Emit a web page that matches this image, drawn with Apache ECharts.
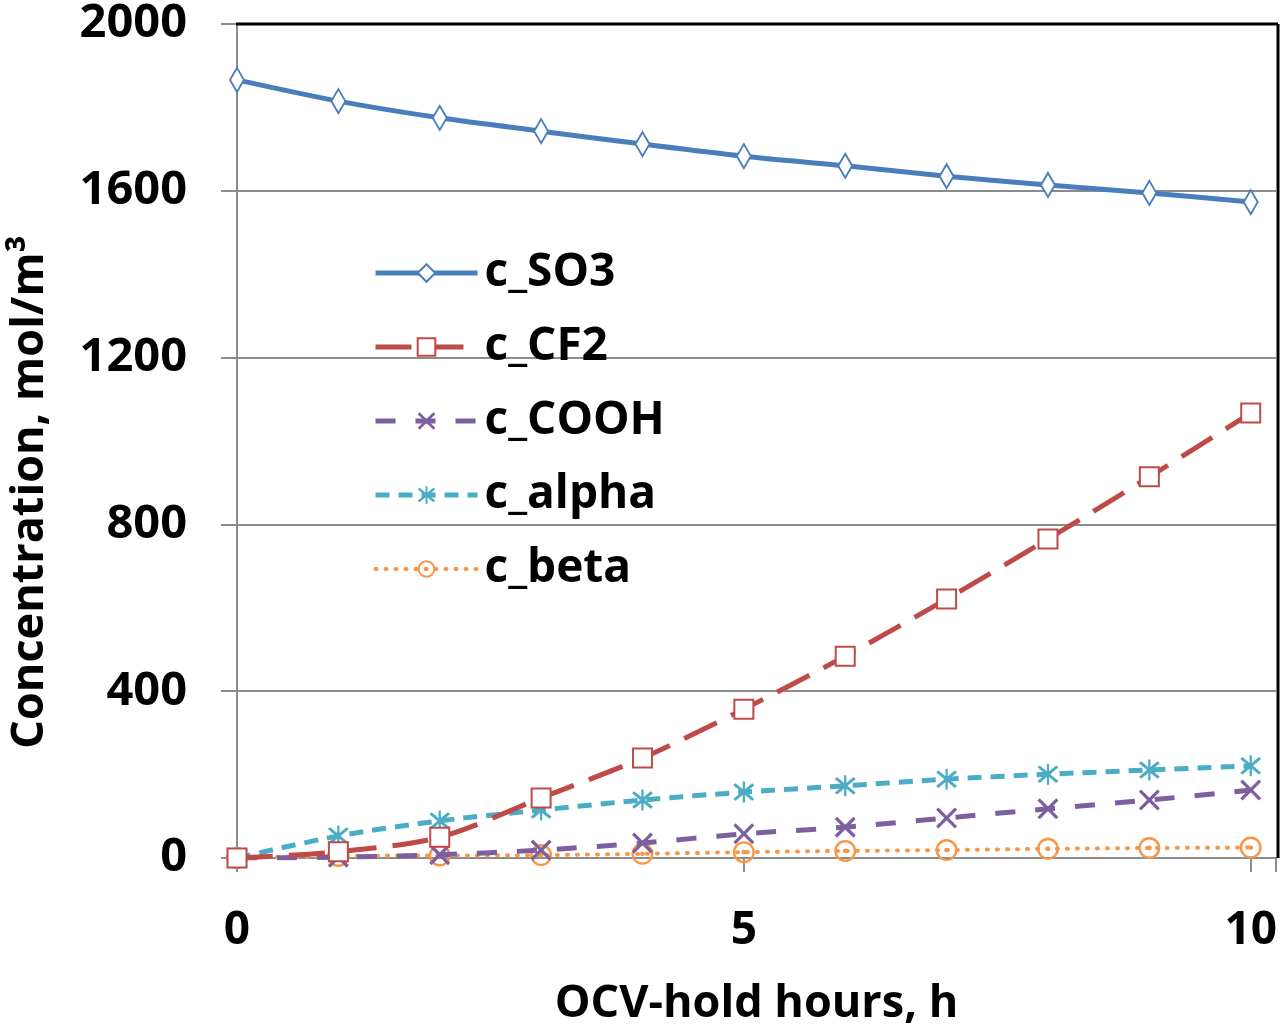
<!DOCTYPE html>
<html><head><meta charset="utf-8">
<script src="https://cdn.jsdelivr.net/npm/echarts@6/dist/echarts.min.js"></script>
<style>html,body{margin:0;padding:0;background:#fff}#c{width:1280px;height:1033px}</style>
</head><body><div id="c"></div>
<script>
const hours = [0,1,2,3,4,5,6,7,8,9,10];
const cSO3  = [1866,1815,1775,1743,1712,1683,1660,1635,1614,1595,1573];
const cCF2  = [0,15,50,144,240,357,484,621,765,914,1067];
const cCOOH = [0,2,8,19,36,58,74,96,118,139,163];
const cAlpha= [0,53,89,115,139,158,173,189,201,211,221];
const cBeta = [0,5,6,7,10,14,17,19,22,24,25];
const seriesNames = ['c_SO3','c_CF2','c_COOH','c_alpha','c_beta'];
const yTicks = [0,400,800,1200,1600,2000];
const xTicks = [0,5,10];

const pairs = arr => hours.map((h,i)=>[h,arr[i]]);
const FONT = '"Open Sans", sans-serif';
const xSym = 'path://M0,1.1L1.1,0L5,3.9L8.9,0L10,1.1L6.1,5L10,8.9L8.9,10L5,6.1L1.1,10L0,8.9L3.9,5Z';
const astSym = 'path://M0,1.1L1.1,0L5,3.9L8.9,0L10,1.1L6.1,5L10,8.9L8.9,10L5,6.1L1.1,10L0,8.9L3.9,5Z M4.45,-1L5.55,-1L5.55,11L4.45,11Z';
const ringSym = 'path://M5,0A5,5 0 1,1 5,10A5,5 0 1,1 5,0Z M5,1.1A3.9,3.9 0 1,0 5,8.9A3.9,3.9 0 1,0 5,1.1Z M5,3.9A1.1,1.1 0 1,1 5,6.1A1.1,1.1 0 1,1 5,3.9Z';

const chart = echarts.init(document.getElementById('c'));
chart.setOption({
  animation:false,
  grid:{left:236,right:2,top:24,bottom:175,show:false},
  legend:{
    left:368, top:245, orient:'vertical',
    itemWidth:102, itemHeight:22, itemGap:28,
    lineStyle:{width:'inherit'},
    textStyle:{fontFamily:FONT,fontWeight:'bold',fontSize:46,color:'#000',padding:[0,0,0,2]},
    data:seriesNames
  },
  xAxis:{
    type:'value', min:0, max:10.25, interval:5,
    axisLine:{show:true,lineStyle:{color:'#8c8c8c',width:2}},
    axisTick:{show:true,length:14,lineStyle:{color:'#8c8c8c',width:2}},
    splitLine:{show:false},
    axisLabel:{fontFamily:FONT,fontWeight:'bold',fontSize:46,color:'#000',margin:50,
      formatter:v=> xTicks.indexOf(v)>=0 ? String(v) : ''},
    name:'OCV-hold hours, h', nameLocation:'middle', nameGap:124,
    nameTextStyle:{fontFamily:FONT,fontWeight:'bold',fontSize:45,color:'#000'}
  },
  yAxis:{
    type:'value', min:0, max:2000, interval:400,
    axisLine:{show:true,lineStyle:{color:'#8c8c8c',width:2}},
    axisTick:{show:true,length:16,inside:false,lineStyle:{color:'#8c8c8c',width:2}},
    splitLine:{show:true,lineStyle:{color:'#8c8c8c',width:2}},
    axisLabel:{fontFamily:FONT,fontWeight:'bold',fontSize:47,color:'#000',margin:50,
      formatter:v=> yTicks.indexOf(v)>=0 ? String(v) : ''},
    name:'Concentration, mol/m³', nameLocation:'middle', nameGap:184,
    nameTextStyle:{fontFamily:FONT,fontWeight:'bold',fontSize:45,color:'#000',padding:[0,102,0,0]}
  },
  graphic:[
    {type:'line',shape:{x1:236,y1:24,x2:1278,y2:24},style:{stroke:'#000',lineWidth:3},z:10},
    {type:'line',shape:{x1:1278,y1:24,x2:1278,y2:858},style:{stroke:'#000',lineWidth:3},z:10}
  ],
  series:[
    {name:'c_SO3',type:'line',data:pairs(cSO3),smooth:0.3,
      color:'#4a7ebb',lineStyle:{width:5,color:'#4a7ebb'},
      symbol:'emptyDiamond',symbolSize:[14,24],itemStyle:{color:'#4a7ebb',borderWidth:2},z:5},
    {name:'c_CF2',type:'line',data:pairs(cCF2),smooth:0.3,
      color:'#be4b48',lineStyle:{width:5,color:'#be4b48',type:[36,16]},
      symbol:'emptyRect',symbolSize:19,itemStyle:{color:'#be4b48',borderWidth:2},z:4},
    {name:'c_COOH',type:'line',data:pairs(cCOOH),smooth:0.3,
      color:'#7d5fa0',lineStyle:{width:5,color:'#7d5fa0',type:[20,20]},
      symbol:xSym,symbolSize:21,itemStyle:{color:'#7d5fa0'},z:3},
    {name:'c_alpha',type:'line',data:pairs(cAlpha),smooth:0.3,
      color:'#4bacc6',lineStyle:{width:5,color:'#4bacc6',type:[14,9]},
      symbol:astSym,symbolSize:21,itemStyle:{color:'#4bacc6'},z:3},
    {name:'c_beta',type:'line',data:pairs(cBeta),smooth:0.3,
      color:'#f79646',lineStyle:{width:4,color:'#f79646',type:[1,9],cap:'round'},
      symbol:ringSym,symbolSize:22,itemStyle:{color:'#f79646'},z:2}
  ]
});
</script></body></html>
